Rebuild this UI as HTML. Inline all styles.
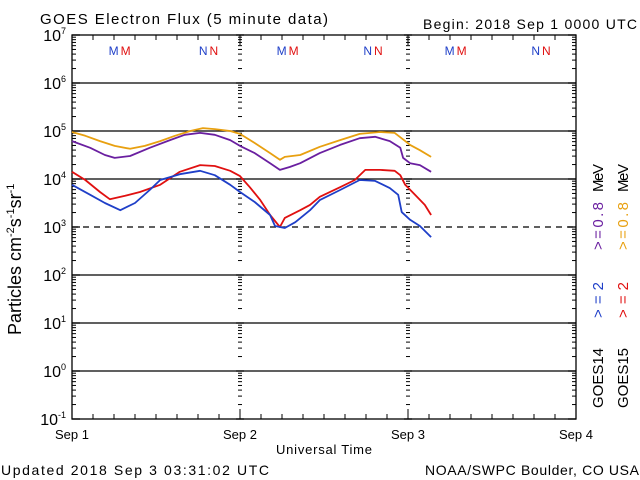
<!DOCTYPE html>
<html><head><meta charset="utf-8"><style>
html,body{margin:0;padding:0;background:#fff;}
svg{display:block;font-family:"Liberation Sans",sans-serif;}
</style></head><body>
<svg id="chart" width="640" height="480" viewBox="0 0 640 480" xmlns="http://www.w3.org/2000/svg">
<rect width="640" height="480" fill="#fff"/>
<text x="40" y="24" font-size="15" textLength="288" lengthAdjust="spacing">GOES Electron Flux (5 minute data)</text>
<text x="423" y="29" font-size="14" textLength="214" lengthAdjust="spacing">Begin: 2018 Sep 1 0000 UTC</text>
<text x="276" y="454" font-size="13" textLength="96" lengthAdjust="spacing">Universal Time</text>
<text x="1" y="475" font-size="14" textLength="268" lengthAdjust="spacing">Updated 2018 Sep  3 03:31:02 UTC</text>
<text x="425" y="475" font-size="14" textLength="214" lengthAdjust="spacing">NOAA/SWPC Boulder, CO USA</text>
<text transform="translate(21,335) rotate(-90)" font-size="18">Particles cm<tspan dy="-7" font-size="11">-2</tspan><tspan dy="7">s</tspan><tspan dy="-7" font-size="11">-1</tspan><tspan dy="7">sr</tspan><tspan dy="-7" font-size="11">-1</tspan></text>
<g font-size="15">
<text transform="translate(603,408) rotate(-90)">GOES14</text>
<text transform="translate(603,318) rotate(-90)" fill="#1f3fc8" textLength="36" lengthAdjust="spacing">&gt;=2</text>
<text transform="translate(603,250) rotate(-90)" fill="#6a1fa0" textLength="48" lengthAdjust="spacing">&gt;=0.8</text>
<text transform="translate(603,192) rotate(-90)" textLength="28" lengthAdjust="spacing">MeV</text>
</g>
<g font-size="15">
<text transform="translate(628,408) rotate(-90)">GOES15</text>
<text transform="translate(628,318) rotate(-90)" fill="#e01010" textLength="36" lengthAdjust="spacing">&gt;=2</text>
<text transform="translate(628,250) rotate(-90)" fill="#e8a010" textLength="48" lengthAdjust="spacing">&gt;=0.8</text>
<text transform="translate(628,192) rotate(-90)" textLength="28" lengthAdjust="spacing">MeV</text>
</g>
<g id="axes"></g>
<g id="series"></g>
</svg>
<script>
const dayLabels = ["Sep 1","Sep 2","Sep 3","Sep 4"];
const decades = [-1,0,1,2,3,4,5,6,7];
const satMarks = [["M",6.8],["N",19.5],["M",30.8],["N",43],["M",54.8],["N",67]];
const hours15 = [0,1.9,4,6.1,8.3,10.4,12.6,14.7,16.9,18.7,20.4,22.6,24,26.1,28.3,29.7,30.4,32.6,35.4,38.3,41.1,44,46.1,47.6,48.3,49.7,51.3];
const orange = [4.98,4.9,4.79,4.69,4.63,4.69,4.79,4.9,5,5.06,5.04,5,4.94,4.75,4.54,4.4,4.46,4.5,4.67,4.81,4.94,4.98,4.96,4.79,4.71,4.6,4.46];
const hours14p = [0,2.6,4.7,6.1,8.3,11.1,14,16.1,18.3,20.4,22.6,24,26.1,28.3,29.7,31.1,32.6,35.4,38.3,41.1,43.3,45.4,46.9,47.3,48.3,49.7,51.3];
const purple = [4.79,4.65,4.5,4.44,4.48,4.65,4.81,4.92,4.96,4.92,4.81,4.69,4.54,4.33,4.19,4.25,4.33,4.54,4.71,4.85,4.88,4.79,4.65,4.44,4.33,4.29,4.15];
const hoursRed = [0,1.9,4,5.4,7.6,9.7,12.6,15.4,18.3,20.4,22.6,24,25.4,26.9,28.3,29.7,30.4,32.6,34,35.4,38.3,40.4,41.9,44,46.1,46.9,47.6,49,50.4,51.3];
const red = [4.15,3.98,3.73,3.58,3.65,3.73,3.88,4.15,4.29,4.27,4.17,4.06,3.83,3.56,3.25,3,3.19,3.35,3.46,3.63,3.83,3.98,4.19,4.19,4.17,4.08,3.88,3.67,3.46,3.25];
const hoursBlue = [0,2.6,4.7,6.9,9,11.1,12.6,15.4,18.3,20.4,22.6,24,26.1,28.3,29,30.4,31.9,34,35.4,38.3,41.1,43.3,45.4,46.6,47.1,48.3,49.7,51.3];
const blue = [3.88,3.67,3.5,3.35,3.5,3.77,3.98,4.1,4.17,4.08,3.88,3.73,3.52,3.25,3.02,2.98,3.1,3.35,3.56,3.77,3.98,3.96,3.81,3.67,3.31,3.15,3.02,2.79];

const NS="http://www.w3.org/2000/svg";
const L=72,R=576,T=35,B=419;
const xS=h=>L+(R-L)*h/72;
const yS=v=>T+(7-v)*(B-T)/8;
function mk(tag,attrs,parent){const e=document.createElementNS(NS,tag);for(const k in attrs)e.setAttribute(k,attrs[k]);parent.appendChild(e);return e;}
const ax=document.getElementById('axes');
const fr=mk('rect',{x:L,y:T,width:R-L,height:B-T,fill:'none',stroke:'#000','stroke-width':1.3},ax);


decades.forEach(d=>{
  const y=yS(d);
  if(d>-1&&d<7){
    const ln=mk('line',{x1:L,x2:R,y1:y,y2:y,stroke:'#000','stroke-width':1.3,'stroke-dasharray':d===3?'6,5':'none'},ax);
    
    
  }
  const t=mk('text',{x:66,y:y+6,'font-size':16,'text-anchor':'end'},ax);
  
  
  t.textContent='10';
  const s=mk('tspan',{dy:-7,'font-size':9},t);s.textContent=String(d);
  if(d<7){
    for(let m=2;m<=9;m++){
      const ym=yS(d+Math.log10(m));
      [[L,L+4],[R-4,R],[238,242],[406,410]].forEach(([a,b])=>mk('line',{x1:a,x2:b,y1:ym,y2:ym,stroke:'#000','stroke-width':1},ax));
    }
  }
  [[L,L+8],[R-8,R],[236,244],[404,412]].forEach(([a,b])=>mk('line',{x1:a,x2:b,y1:y,y2:y,stroke:'#000','stroke-width':1.3},ax));
});
for(let h=0;h<=72;h+=3){
  const x=xS(h);const len=h%24===0?10:5;
  mk('line',{x1:x,x2:x,y1:B,y2:B-len,stroke:'#000','stroke-width':1},ax);
  mk('line',{x1:x,x2:x,y1:T,y2:T+len,stroke:'#000','stroke-width':1},ax);
}
dayLabels.forEach((lab,i)=>{
  const t=mk('text',{x:xS(i*24),y:439,'font-size':13,'text-anchor':'middle'},ax);
  
  
  t.textContent=lab;
});
satMarks.forEach(([c,h])=>{
  const a=mk('text',{x:xS(h)-1,y:55,'font-size':12,'text-anchor':'end',fill:'#1f3fc8'},ax);
  
  
  a.textContent=c;
  const b=mk('text',{x:xS(h)+1,y:55,'font-size':12,'text-anchor':'start',fill:'#e01010'},ax);
  
  
  b.textContent=c;
});
const sg=document.getElementById('series');
function line(hs,vs,color,name){
  const p=mk('polyline',{points:hs.map((h,i)=>xS(h).toFixed(1)+','+yS(vs[i]).toFixed(1)).join(' '),fill:'none',stroke:color,'stroke-width':1.8,'stroke-linejoin':'round'},sg);
  
  
}
line(hours15,orange,'#e8a010','goes15-0.8mev-line');
line(hours14p,purple,'#6a1fa0','goes14-0.8mev-line');
line(hoursRed,red,'#e01010','goes15-2mev-line');
line(hoursBlue,blue,'#1f3fc8','goes14-2mev-line');
</script>
</body></html>
